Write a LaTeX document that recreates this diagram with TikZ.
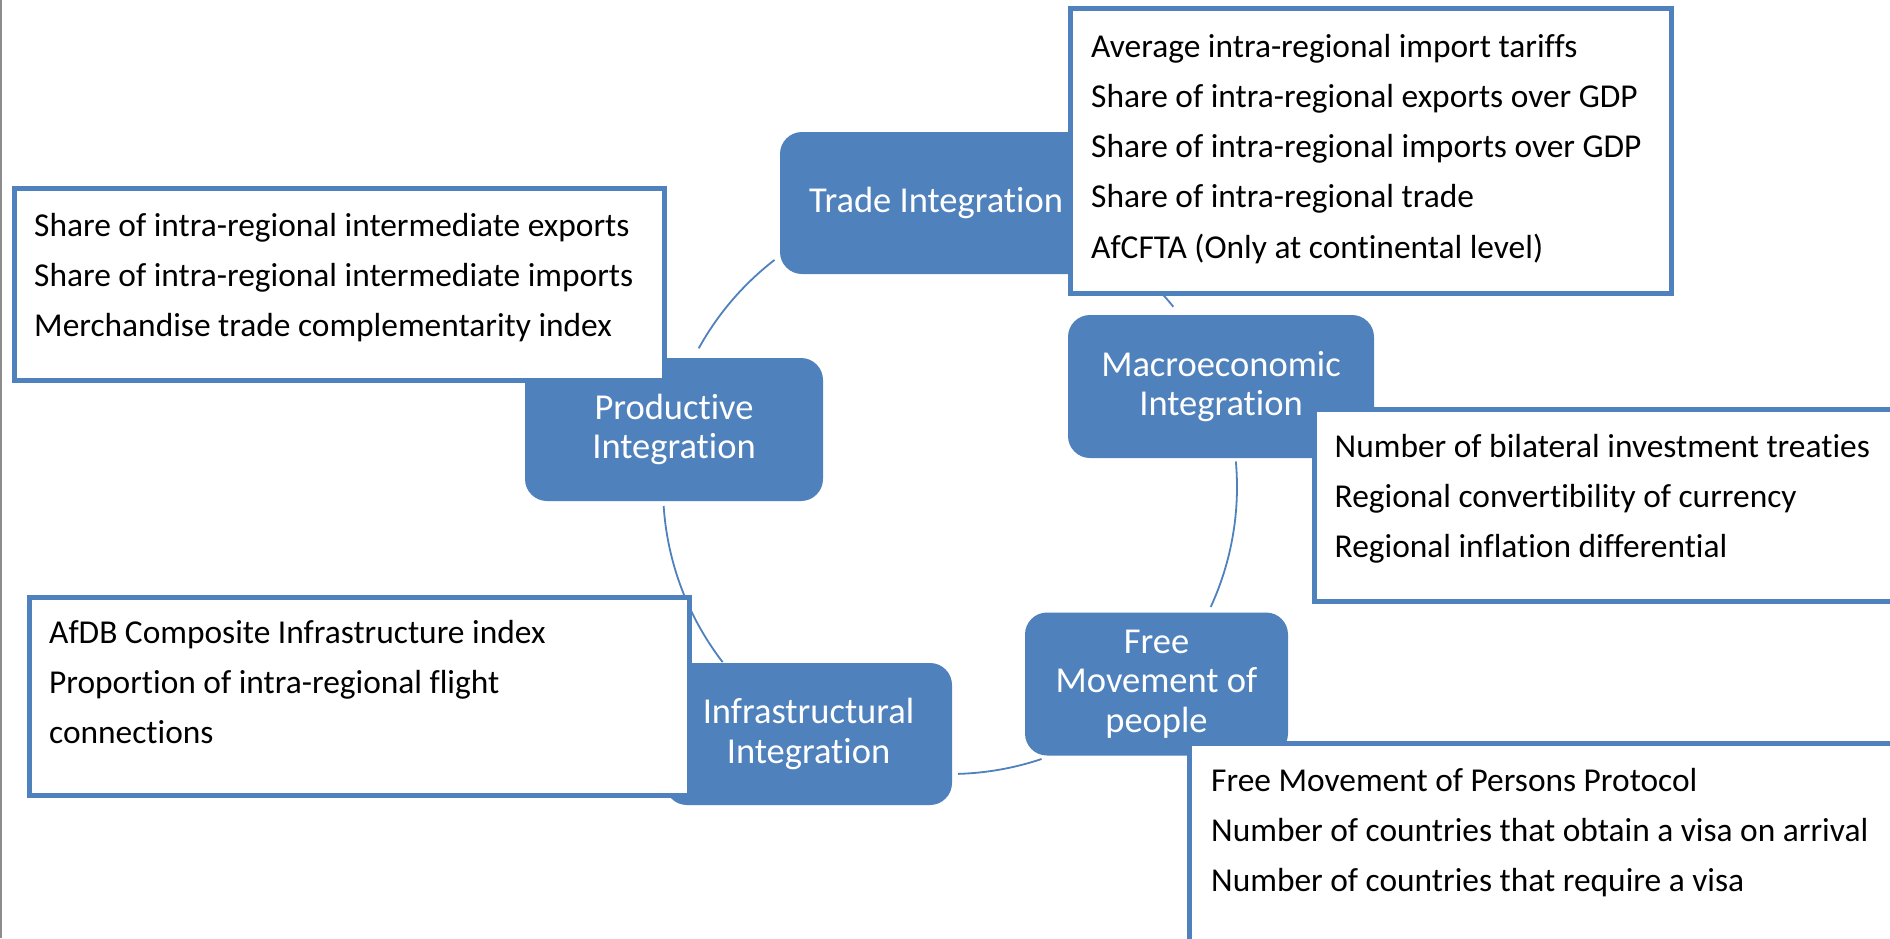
\documentclass[tikz,border=0pt]{standalone}
\usepackage{fontspec}
\setmainfont{Carlito}[Ligatures=NoCommon]
\definecolor{accent}{HTML}{4F81BD}
\begin{document}
\begin{tikzpicture}[x=1pt,y=-1pt,
  hub/.style={rounded corners=22pt, fill=accent, text=white, align=center, inner sep=0pt, outer sep=0pt,
    font=\fontsize{36.5}{39.5}\selectfont},
  listbox/.style={draw=accent, line width=5pt, fill=white, anchor=north west, inner sep=0pt, outer sep=0pt},
  listtext/.style={anchor=base west, align=left, inner sep=0pt, text=black,
    font=\fontsize{33.4}{50.3}\selectfont},
  conn/.style={draw=accent, line width=1.8pt},
  edge/.style={draw=black!45, line width=2pt}]
\path[use as bounding box, clip] (0,0) rectangle (1890,938);
\fill[white] (0,0) rectangle (1890,938);
\draw[edge] (1,0) -- (1,938);
% cycle connectors
\coordinate (cyc) at (950,487);
\draw[conn] ([shift={(208.9:287)}]cyc) arc[start angle=208.9, end angle=232.3, radius=287];
\draw[conn] ([shift={(300:287)}]cyc) arc[start angle=300, end angle=321.1, radius=287];
\draw[conn] ([shift={(-5.1:287)}]cyc) arc[start angle=-5.1, end angle=24.7, radius=287];
\draw[conn] ([shift={(71.4:287)}]cyc) arc[start angle=71.4, end angle=88.4, radius=287];
\draw[conn] ([shift={(142.4:287)}]cyc) arc[start angle=142.4, end angle=176.2, radius=287];
% hubs
\node[hub, minimum width=312pt, minimum height=142pt] (trade) at (936,203) {Trade Integration};
\node[hub, minimum width=298pt, minimum height=143pt] (prod) at (674,429.5) {Productive\\Integration};
\node[hub, minimum width=306pt, minimum height=143pt] (macro) at (1221,386.5) {Macroeconomic\\Integration};
\node[hub, minimum width=263pt, minimum height=143pt] (free) at (1156.5,684) {Free\\Movement of\\people};
\node[hub, minimum width=287pt, minimum height=142pt] (infra) at (808.5,734) {Infrastructural\\Integration};
% list boxes (text anchored at the baseline of its last line)
\node[listbox, minimum width=650pt, minimum height=192pt] (plist) at (14,188) {};
\node[listtext] (ptext) at (34,336.6) {Share of intra-regional intermediate exports\\Share of intra-regional intermediate imports\\Merchandise trade complementarity index};
\node[listbox, minimum width=601pt, minimum height=285pt] (tlist) at (1070,8) {};
\node[listtext] (ttext) at (1091,258.2) {Average intra-regional import tariffs\\Share of intra-regional exports over GDP\\Share of intra-regional imports over GDP\\Share of intra-regional trade\\AfCFTA (Only at continental level)};
\node[listbox, minimum width=620pt, minimum height=192pt] (mlist) at (1314,409) {};
\node[listtext] (mtext) at (1334.5,557.6) {Number of bilateral investment treaties\\Regional convertibility of currency\\Regional inflation differential};
\node[listbox, minimum width=720pt, minimum height=220pt] (flist) at (1189,743) {};
\node[listtext] (ftext) at (1211,891.6) {Free Movement of Persons Protocol\\Number of countries that obtain a visa on arrival\\Number of countries that require a visa};
\node[listbox, minimum width=660pt, minimum height=198pt] (ilist) at (29,597) {};
\node[listtext] (itext) at (49,743.6) {AfDB Composite Infrastructure index\\Proportion of intra-regional flight\\connections};
\end{tikzpicture}
\end{document}
